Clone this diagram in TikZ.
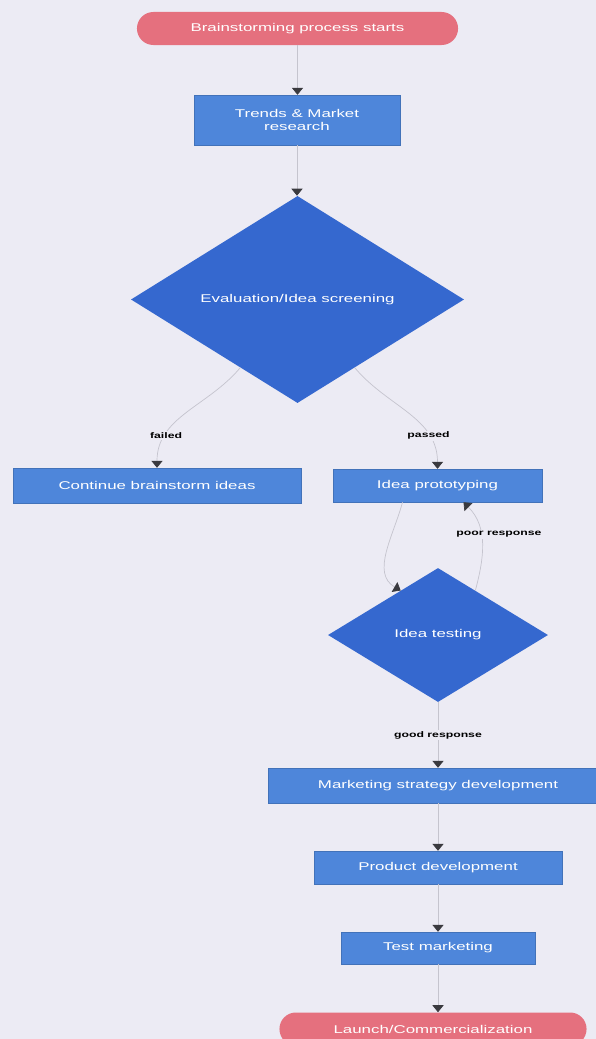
\documentclass[tikz,border=0pt]{standalone}
\usepackage{fontspec}
\setmainfont[FakeStretch=1.5]{Liberation Sans}
\usetikzlibrary{arrows.meta,shapes.geometric,calc}
\definecolor{fbg}{HTML}{ECEBF4}
\definecolor{fpink}{HTML}{E5707E}
\definecolor{fbox}{HTML}{4E86DA}
\definecolor{fdia}{HTML}{3568CF}
\definecolor{fline}{HTML}{C5C4CE}
\definecolor{ftip}{HTML}{3A3A3F}
\tikzset{
  term/.style={fill=fpink,text=white,rounded corners=0.41cm,minimum height=0.825cm,inner sep=0pt,font=\fontsize{8}{9.6}\selectfont},
  proc/.style={fill=fbox,draw=fbox!85!black,line width=0.3pt,text=white,align=center,inner sep=0pt,font=\fontsize{8}{9.6}\selectfont},
  dec/.style={diamond,aspect=1.6,fill=fdia,text=white,inner sep=0pt,font=\fontsize{8}{9.6}\selectfont},
  arr/.style={-{Triangle[width=8pt,length=5pt,color=ftip]},draw=fline,line width=0.5pt},
  lbl/.style={font=\fontsize{5.8}{7}\selectfont\bfseries,text=black,fill=fbg,inner sep=1pt},
}
\begin{document}
\begin{tikzpicture}[x=0.025cm,y=-0.025cm]
  \useasboundingbox (0,0) rectangle (596,1039);
  \fill[fbg] (0,0) rectangle (596,1039);
  \clip (0,0) rectangle (596,1039);
  \node[term,minimum width=8.025cm] (start) at (297.5,28.5) {Brainstorming process starts};
  \node[proc,minimum width=5.15cm,minimum height=1.25cm] (trends) at (297,120) {Trends \& Market\\research};
  \node[dec,minimum width=8.325cm,minimum height=5.175cm] (eval) at (297.5,299.5) {Evaluation/Idea screening};
  \node[proc,minimum width=7.2cm,minimum height=0.875cm] (cont) at (157,485.5) {Continue brainstorm ideas};
  \node[proc,minimum width=5.225cm,minimum height=0.825cm] (proto) at (437.5,485.5) {Idea prototyping};
  \node[dec,minimum width=5.5cm,minimum height=3.35cm] (test) at (438,635) {Idea testing};
  \node[proc,minimum width=8.5cm,minimum height=0.875cm] (mkt) at (438,785.5) {Marketing strategy development};
  \node[proc,minimum width=6.2cm,minimum height=0.825cm] (prod) at (438,867.5) {Product development};
  \node[proc,minimum width=4.85cm,minimum height=0.8cm] (tmkt) at (438,948) {Test marketing};
  \node[term,minimum width=7.675cm] (launch) at (433,1029) {Launch/Commercialization};
  \foreach \a/\b in {start/trends,trends/eval,mkt/prod,prod/tmkt,tmkt/launch}
    \draw[arr] (\a.south) -- (\a.south |- \b.north);
  \draw[arr] (eval) to[out=-130,in=90] node[lbl,pos=0.74]{failed} (cont.north);
  \draw[arr] (eval) to[out=-50,in=90] node[lbl,pos=0.74]{passed} (proto.north);
  \draw[arr] ($(proto.south)+(-35,0)$) to[out=-105,in=150] (test.130);
  \draw[arr] (test.50) to[out=75,in=-45] node[lbl,pos=0.6,xshift=0.45cm]{poor response} ($(proto.south)+(26,0)$);
  \draw[arr] (test.south) -- node[lbl]{good response} (test.south |- mkt.north);
\end{tikzpicture}
\end{document}
